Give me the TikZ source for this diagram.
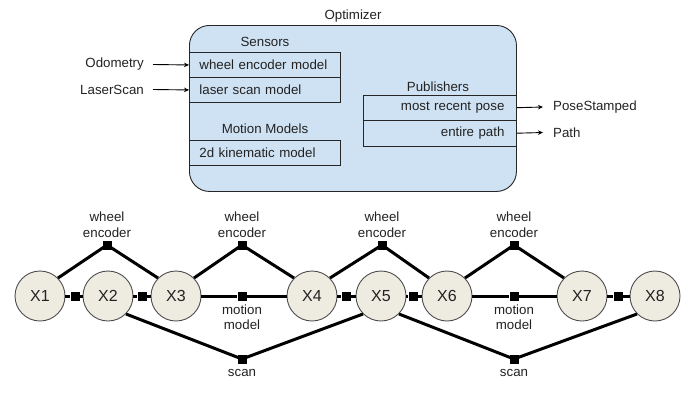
\documentclass[tikz,border=0pt]{standalone}
\usepackage{fontspec}
\setmainfont{Liberation Sans}
\usetikzlibrary{arrows.meta,calc}
\definecolor{boxblue}{RGB}{207,226,243}
\definecolor{beige}{RGB}{238,236,225}
\definecolor{txtc}{RGB}{34,34,34}
\begin{document}
\begin{tikzpicture}[x=1pt,y=-1pt,
  txt/.style={inner sep=0pt, text=txtc, font=\fontsize{13.3}{15}\selectfont},
  mainbox/.style={draw=black!85, line width=0.9pt, fill=boxblue, rounded corners=20pt, minimum width=327pt, minimum height=166pt, inner sep=0pt, anchor=north west},
  sbox/.style={draw=black!85, line width=0.9pt, anchor=north west, minimum height=25pt, inner ysep=0pt, inner xsep=10pt, text width=131pt, align=left, text=txtc, font=\fontsize{13.3}{15}\selectfont},
  pbox/.style={draw=black!85, line width=0.9pt, anchor=north west, minimum height=25.5pt, inner ysep=0pt, inner xsep=12pt, text width=129pt, align=right, text=txtc, font=\fontsize{13.3}{15}\selectfont},
  arr/.style={line width=0.9pt, -{Stealth[length=5pt,width=4.5pt]}},
  var/.style={circle, draw=black!70, line width=0.9pt, fill=beige, minimum size=50pt, inner sep=0pt, text=txtc, font=\fontsize{16}{18}\selectfont},
  fac/.style={rectangle, fill=black, minimum size=9pt, inner sep=0pt},
  edge/.style={line width=3pt},
  lbl/.style={inner sep=0pt, align=center, text=txtc, font=\fontsize{13.3}{15.5}\selectfont}
]
\useasboundingbox (0,0) rectangle (698,408);
% Optimizer block
\node[txt] (opt) at (353,16) {Optimizer};
\node[mainbox] (main) at (189,25) {};
\node[txt] (sens) at (265,42) {Sensors};
\node[sbox] (wem) at (189,52) {wheel encoder model};
\node[sbox] (lsm) at (189,77) {laser scan model};
\node[txt] (motm) at (265,129) {Motion Models};
\node[sbox] (kin) at (189,140) {2d kinematic model};
\node[txt] (pub) at (438,87) {Publishers};
\node[pbox] (mrp) at (363,94.5) {most recent pose};
\node[pbox] (ep) at (363,120) {entire path};
% inputs / outputs
\node[txt, anchor=east] (odo) at (144,64.5) {Odometry};
\node[txt, anchor=east] (ls) at (144,89.5) {LaserScan};
\draw[arr] ([xshift=9pt]odo.east) -- (wem.west);
\draw[arr] ([xshift=9pt]ls.east) -- (lsm.west);
\node[txt, anchor=west] (ps) at (553,107) {PoseStamped};
\node[txt, anchor=west] (pth) at (553,132.5) {Path};
\draw[arr] (mrp.east) -- ([xshift=-10pt]ps.west);
\draw[arr] (ep.east) -- ([xshift=-10pt]pth.west);
% factor graph
\foreach \n/\x in {X1/40,X2/108,X3/176,X4/312,X5/381,X6/447,X7/582,X8/655}
  \node[var] (\n) at (\x,296) {\n};
\node[fac] (f12) at (75,296) {};
\node[fac] (f23) at (142,296) {};
\node[fac] (f45) at (346,296) {};
\node[fac] (f56) at (413,296) {};
\node[fac] (f78) at (618,296) {};
\node[fac] (mm1) at (242,296) {};
\node[fac] (mm2) at (514,296) {};
\node[fac] (we1) at (107,245) {};
\node[fac] (we2) at (242,245) {};
\node[fac] (we3) at (382,245) {};
\node[fac] (we4) at (514,245) {};
\node[fac] (sc1) at (242,359) {};
\node[fac] (sc2) at (514,359) {};
\draw[edge] (X1) -- (f12) -- (X2);
\draw[edge] (X2) -- (f23) -- (X3);
\draw[edge] (X3) -- (mm1) -- (X4);
\draw[edge] (X4) -- (f45) -- (X5);
\draw[edge] (X5) -- (f56) -- (X6);
\draw[edge] (X6) -- (mm2) -- (X7);
\draw[edge] (X7) -- (f78) -- (X8);
\draw[edge, line join=round] (X1.north east) -- (we1.center) -- (X3.north west);
\draw[edge, line join=round] (X3.north east) -- (we2.center) -- (X4.north west);
\draw[edge, line join=round] (X4.north east) -- (we3.center) -- (X6.north west);
\draw[edge, line join=round] (X6.north east) -- (we4.center) -- (X7.north west);
\draw[edge, line join=round] (X2.south east) -- (sc1.center) -- (X5.south west);
\draw[edge, line join=round] (X5.south east) -- (sc2.center) -- (X8.south west);
\foreach \w in {we1,we2,we3,we4}
  \node[lbl] (l\w) at ($(\w)+(0,-20.5)$) {wheel\\encoder};
\foreach \m in {mm1,mm2}
  \node[lbl] (l\m) at ($(\m)+(0,21)$) {motion\\model};
\foreach \s in {sc1,sc2}
  \node[lbl] (l\s) at ($(\s)+(0,14)$) {scan};
\end{tikzpicture}
\end{document}
